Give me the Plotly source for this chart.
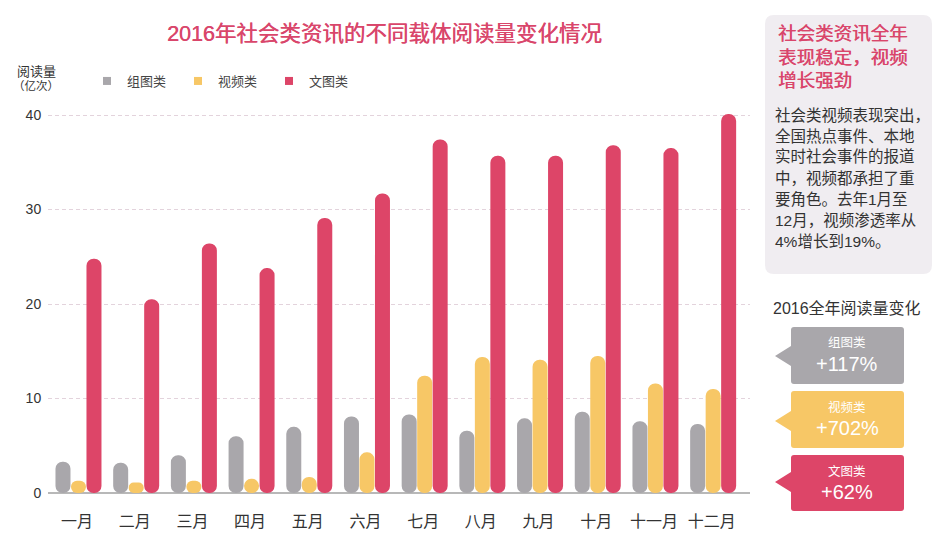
import plotly.graph_objects as go

months = ["一月", "二月", "三月", "四月", "五月", "六月", "七月", "八月", "九月", "十月", "十一月", "十二月"]
grey_vals = [3.3, 3.2, 4.0, 6.0, 7.0, 8.1, 8.3, 6.6, 7.9, 8.6, 7.6, 7.3]
yellow_vals = [1.3, 1.1, 1.3, 1.5, 1.7, 4.3, 12.4, 14.4, 14.1, 14.5, 11.6, 11.0]
red_vals = [24.8, 20.5, 26.4, 23.8, 29.1, 31.7, 37.4, 35.7, 35.7, 36.8, 36.5, 40.1]
y_ticks = [0, 10, 20, 30, 40]

series_names = ["组图类", "视频类", "文图类"]
changes = ["+117%", "+702%", "+62%"]
head_lines = ["社会类资讯全年", "表现稳定，视频", "增长强劲"]
body_lines = ["社会类视频表现突出，", "全国热点事件、本地", "实时社会事件的报道", "中，视频都承担了重",
              "要角色。去年1月至", "12月，视频渗透率从", "4%增长到19%。"]
GREY, YELLOW, RED = "#a9a7ab", "#f7c766", "#dd4568"
FONT = "Liberation Sans, Noto Sans CJK SC, sans-serif"
W, H = 943, 550


def px(x):
    return x / W


def py(y):
    return 1 - y / H


fig = go.Figure()
cat_w = 57.7
bar_w = 15.0 / cat_w
offsets = [-16.0 / cat_w, -0.5 / cat_w, 15.0 / cat_w]
for name, vals, col, off in zip(series_names, [grey_vals, yellow_vals, red_vals], [GREY, YELLOW, RED], offsets):
    # an explicit base makes plotly round both ends of the bar
    fig.add_trace(go.Bar(x=months, y=vals, base=[0] * len(vals), width=bar_w, offset=off - bar_w / 2,
                         marker=dict(color=col, cornerradius=7.5, line_width=0), cliponaxis=False,
                         showlegend=False, hoverinfo="skip"))
    fig.add_trace(go.Scatter(x=[None], y=[None], mode="markers", name=name,
                             marker=dict(color=col, symbol="square", size=8), hoverinfo="skip"))

shapes = []


def rrect(x0, y0, x1, y1, r, tip=None):
    xa, xb, ya, yb = px(x0), px(x1), py(y0), py(y1)
    rx, ry = r / W, r / H
    p = f"M{xa + rx},{ya} L{xb - rx},{ya} Q{xb},{ya} {xb},{ya - ry} L{xb},{yb + ry} Q{xb},{yb} {xb - rx},{yb} L{xa + rx},{yb} Q{xa},{yb} {xa},{yb + ry} "
    if tip:
        tx, ty = tip
        p += f"L{xa},{py(ty + 10)} L{px(tx)},{py(ty)} L{xa},{py(ty - 10)} "
    p += f"L{xa},{ya - ry} Q{xa},{ya} {xa + rx},{ya} Z"
    return dict(type="path", path=p, xref="paper", yref="paper", line_width=0, layer="below")


panel = rrect(765, 15, 932, 274, 9)
panel["fillcolor"] = "#f0edf1"
shapes.append(panel)

annos = []


def text(x, y, s, size, color, anchor="center", shadow=None):
    f = dict(size=size, color=color, family=FONT)
    if shadow:
        f["shadow"] = shadow
    annos.append(dict(x=px(x), y=py(y), xref="paper", yref="paper", text=s, showarrow=False,
                      align="left" if anchor == "left" else "center",
                      xanchor=anchor, yanchor="middle", font=f))


boxes = [(327, 384, 356), (391, 448, 421), (455, 511, 482)]
for (y0, y1, ty), col, nm, ch in zip(boxes, [GREY, YELLOW, RED], series_names, changes):
    s = rrect(791, y0, 904, y1, 3, tip=(775, ty))
    s["fillcolor"] = col
    shapes.append(s)
    text(847, y0 + 16, nm, 12.5, "#ffffff")
    text(847, y0 + 37, ch, 20, "#ffffff")

BOLDISH = "0.4px 0 0.3px #d9466b"
text(384, 34, "2016年社会类资讯的不同载体阅读量变化情况", 21.5, "#d9466b", shadow=BOLDISH)
text(36, 71, "阅读量", 13, "#333333")
text(36, 85, "（亿次）", 11.5, "#333333")
for i, line in enumerate(head_lines):
    text(776, 34 + 23 * i, line, 18.5, "#d9466b", "left", shadow=BOLDISH)
for i, line in enumerate(body_lines):
    text(773, 115 + 21 * i, line, 15.5, "#333333", "left")
text(847, 308, "2016全年阅读量变化", 16, "#333333")

fig.update_layout(
    width=W, height=H, margin=dict(l=0, r=0, t=0, b=0),
    paper_bgcolor="white", plot_bgcolor="white",
    barmode="overlay", shapes=shapes, annotations=annos,
    font=dict(family=FONT, color="#333333"),
    legend=dict(orientation="h", x=px(87), y=py(81), xanchor="left", yanchor="middle",
                entrywidth=46, entrywidthmode="pixels", font=dict(size=13, color="#444444"),
                bgcolor="rgba(0,0,0,0)", traceorder="normal", tracegroupgap=0),
    xaxis=dict(domain=[px(48), px(750)], type="category", range=[-0.537, 11.63], automargin=False,
               tickfont=dict(size=16, color="#333333"), ticks="outside", ticklen=14, ticklabelshift=-2,
               tickcolor="rgba(0,0,0,0)", showgrid=False, showline=False, zeroline=False,
               fixedrange=True),
    yaxis=dict(domain=[py(493), py(105.55)], range=[0, 41], tickvals=y_ticks, automargin=False,
               tickfont=dict(size=14, color="#333333"), showgrid=True, gridcolor="#e3d3dc",
               griddash="4px,3px", gridwidth=1, zeroline=True, zerolinecolor="#b8b8b8", zerolinewidth=2,
               ticks="outside", ticklen=3, tickcolor="rgba(0,0,0,0)", showline=False, fixedrange=True),
)
fig.write_html("out.html", config=dict(displayModeBar=False),
               post_script="document.body.style.margin='0';")
